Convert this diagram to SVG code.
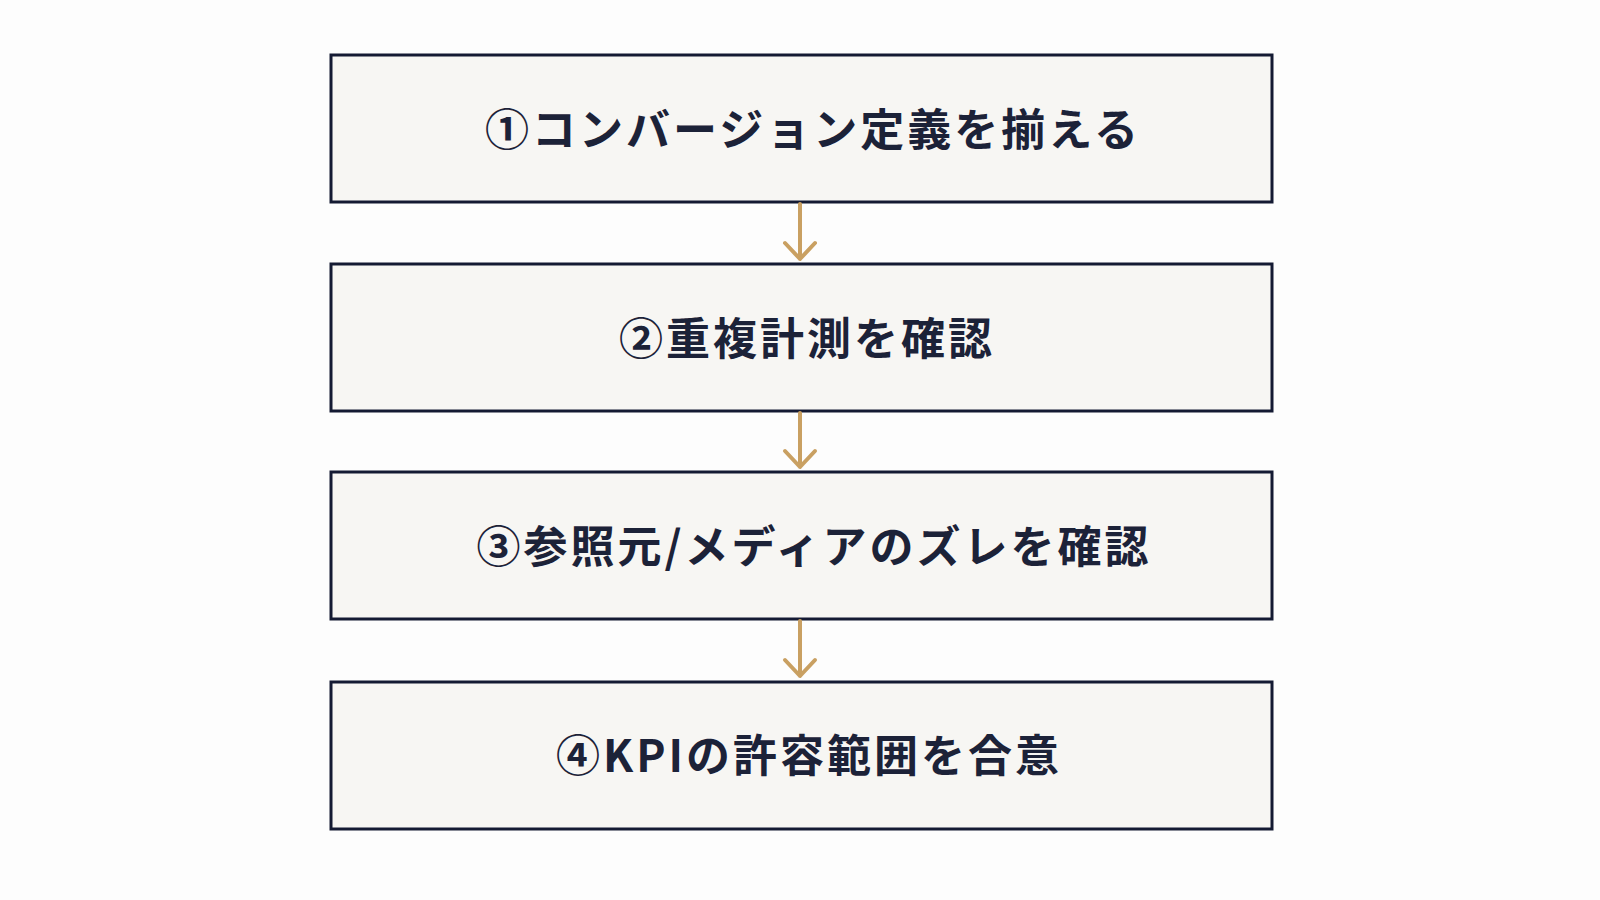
<svg xmlns="http://www.w3.org/2000/svg" width="1600" height="900" viewBox="0 0 1600 900">
<style>
.box{fill:#f7f6f3;stroke:#141a33;stroke-width:3}
.t{font-family:"Noto Sans CJK JP","Noto Sans",sans-serif;font-weight:700;font-size:44px;fill:#1c2238;text-anchor:middle;letter-spacing:3px}
.c{stroke:#c9a062;stroke-width:4;fill:none;stroke-linecap:round;stroke-linejoin:round}
</style>
<rect width="1600" height="900" fill="#fdfdfd"/>
<g id="n1"><rect class="box" x="331" y="55" width="941" height="147"/><text class="t" x="813" y="146">①コンバージョン定義を揃える</text></g>
<g id="n2"><rect class="box" x="331" y="264" width="941" height="147"/><text class="t" x="807" y="355">②重複計測を確認</text></g>
<g id="n3"><rect class="box" x="331" y="472" width="941" height="147"/><text class="t" x="814" y="563">③参照元/メディアのズレを確認</text></g>
<g id="n4"><rect class="box" x="331" y="682" width="941" height="147"/><text class="t" x="809" y="772">④KPIの許容範囲を合意</text></g>
<g id="connectors">
<path class="c" d="M800 204V259M785 243L800 259L815 243"/>
<path class="c" d="M800 413V467M785 451L800 467L815 451"/>
<path class="c" d="M800 621V676M785 660L800 676L815 660"/>
</g>
</svg>
